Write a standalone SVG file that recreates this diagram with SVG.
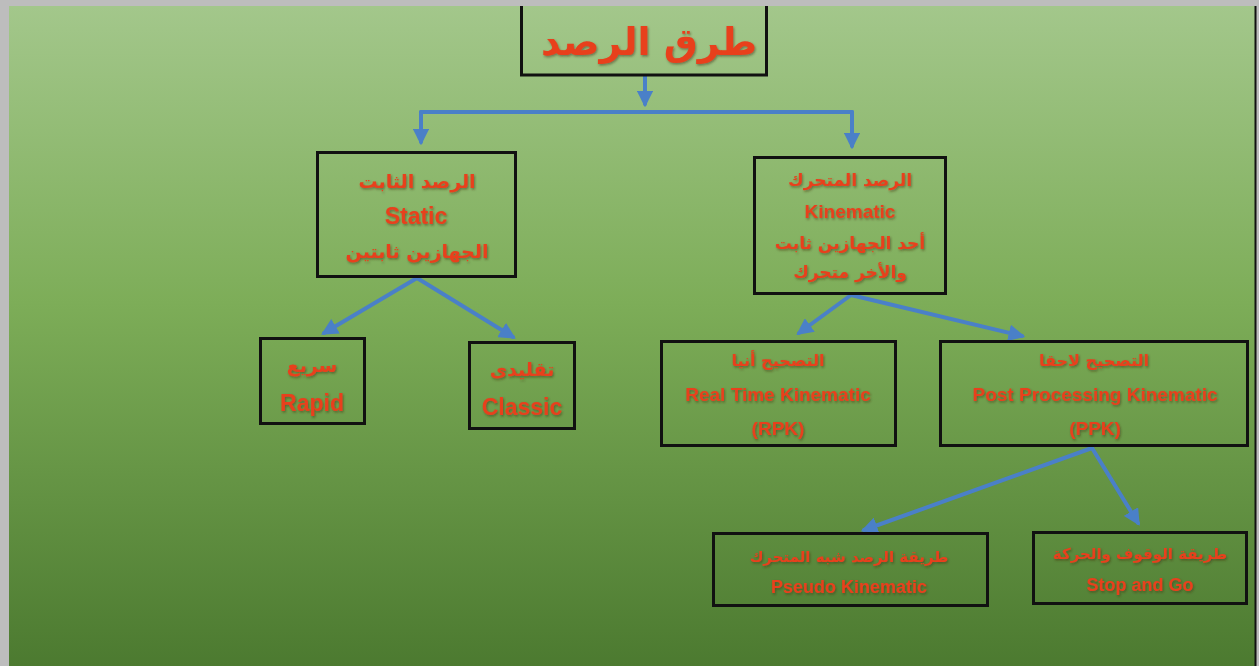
<svg xmlns="http://www.w3.org/2000/svg" width="1259" height="666" viewBox="0 0 1259 666">
<defs>
<linearGradient id="bg" x1="0" y1="0" x2="0" y2="1">
<stop offset="0" stop-color="#a3c78b"/>
<stop offset="0.45" stop-color="#7dad58"/>
<stop offset="1" stop-color="#4c7a30"/>
</linearGradient>
<marker id="ah" viewBox="0 0 10 10" refX="8" refY="5" markerWidth="4.2" markerHeight="4.2" orient="auto" markerUnits="strokeWidth">
<path d="M0,0 L10,5 L0,10 z" fill="#4a80c8"/>
</marker>
<filter id="sh" x="-5%" y="-20%" width="110%" height="140%">
<feDropShadow dx="1" dy="1.5" stdDeviation="0.8" flood-color="#3a2a10" flood-opacity="0.5"/>
</filter>
</defs>
<style>
.box{fill:none;stroke:#111;stroke-width:3}
.con{fill:none;stroke:#4a80c8;stroke-width:4;stroke-linecap:round}
.ar{font-family:"DejaVu Sans",sans-serif;font-weight:bold;fill:#e8401c;text-anchor:middle;filter:url(#sh)}
.en{font-family:"Liberation Sans","DejaVu Sans",sans-serif;font-weight:bold;fill:#e8401c;text-anchor:middle;filter:url(#sh)}
</style>
<rect x="0" y="0" width="1259" height="666" fill="#bdbdbd"/>
<rect x="9" y="6" width="1246" height="660" fill="url(#bg)"/>
<line x1="1255.5" y1="6" x2="1255.5" y2="666" stroke="#111" stroke-width="2"/>

<g id="connectors">
<path class="con" d="M645,76 V104" marker-end="url(#ah)"/>
<path class="con" d="M421,112 H852"/>
<path class="con" d="M421,112 V142" marker-end="url(#ah)"/>
<path class="con" d="M852,112 V146" marker-end="url(#ah)"/>
<path class="con" d="M417,278 L324,333" marker-end="url(#ah)"/>
<path class="con" d="M417,278 L513,337" marker-end="url(#ah)"/>
<path class="con" d="M851,295 L799,333" marker-end="url(#ah)"/>
<path class="con" d="M851,295 L1022,336" marker-end="url(#ah)"/>
<path class="con" d="M1092,448 L864,530" marker-end="url(#ah)"/>
<path class="con" d="M1092,448 L1138,523" marker-end="url(#ah)"/>
</g>

<g id="root">
<rect class="box" x="521.5" y="-5" width="245" height="80"/>
<text class="ar" x="649" y="55" font-size="38">طرق الرصد</text>
</g>

<g id="static">
<rect class="box" x="317.5" y="152.5" width="198" height="124"/>
<text class="ar" x="417" y="188" font-size="19">الرصد الثابت</text>
<text class="en" x="416" y="224" font-size="23">Static</text>
<text class="ar" x="417" y="258" font-size="19">الجهازين ثابتين</text>
</g>

<g id="kinematic">
<rect class="box" x="754.5" y="157.5" width="191" height="136"/>
<text class="ar" x="850" y="186" font-size="17">الرصد المتحرك</text>
<text class="en" x="850" y="218" font-size="19">Kinematic</text>
<text class="ar" x="850" y="249" font-size="17">أحد الجهازين ثابت</text>
<text class="ar" x="850" y="278" font-size="17">والأخر متحرك</text>
</g>

<g id="rapid">
<rect class="box" x="260.5" y="338.5" width="104" height="85"/>
<text class="ar" x="312" y="372" font-size="19">سريع</text>
<text class="en" x="312" y="411" font-size="23">Rapid</text>
</g>

<g id="classic">
<rect class="box" x="469.5" y="342.5" width="105" height="86"/>
<text class="ar" x="522" y="376" font-size="19">تقليدى</text>
<text class="en" x="522" y="415" font-size="23">Classic</text>
</g>

<g id="rtk">
<rect class="box" x="661.5" y="341.5" width="234" height="104"/>
<text class="ar" x="778" y="366" font-size="16">التصحيح أنيا</text>
<text class="en" x="778" y="401" font-size="19">Real Time Kinematic</text>
<text class="en" x="778" y="435" font-size="19">(RPK)</text>
</g>

<g id="ppk">
<rect class="box" x="940.5" y="341.5" width="307" height="104"/>
<text class="ar" x="1094" y="366" font-size="16">التصحيح لاحقا</text>
<text class="en" x="1095" y="401" font-size="19">Post Processing Kinematic</text>
<text class="en" x="1095" y="435" font-size="19">(PPK)</text>
</g>

<g id="pseudo">
<rect class="box" x="713.5" y="533.5" width="274" height="72"/>
<text class="ar" x="849" y="562" font-size="15">طريقة الرصد شبه المتحرك</text>
<text class="en" x="849" y="593" font-size="18">Pseudo Kinematic</text>
</g>

<g id="stopgo">
<rect class="box" x="1033.5" y="532.5" width="213" height="71"/>
<text class="ar" x="1140" y="559" font-size="15">طريقة الوقوف والحركة</text>
<text class="en" x="1140" y="591" font-size="18">Stop and Go</text>
</g>
<rect x="0" y="0" width="1259" height="6" fill="#bdbdbd"/>
</svg>
